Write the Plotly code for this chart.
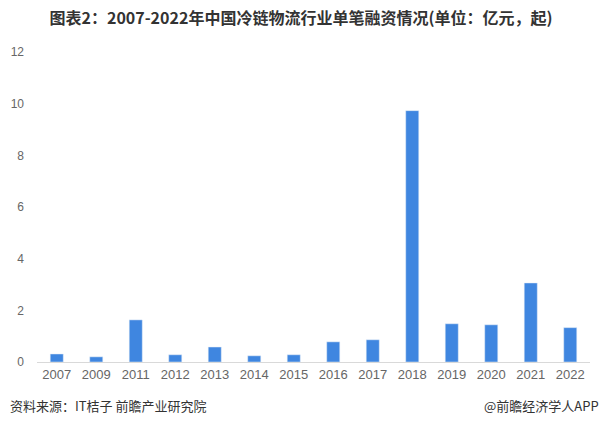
import plotly.graph_objects as go

years = ["2007", "2009", "2011", "2012", "2013", "2014", "2015", "2016", "2017", "2018", "2019", "2020", "2021", "2022"]
values = [0.31, 0.2, 1.63, 0.28, 0.58, 0.24, 0.28, 0.78, 0.86, 9.73, 1.48, 1.44, 3.06, 1.33]
y_ticks = [0, 2, 4, 6, 8, 10, 12]

fig = go.Figure()
fig.add_trace(go.Bar(x=years, y=values, marker_color="#3f86e0", width=0.33))

fig.update_layout(
    width=602, height=424,
    margin=dict(l=37, r=12, t=52, b=62),
    paper_bgcolor="white", plot_bgcolor="white",
    showlegend=False,
    font=dict(family="Noto Sans CJK SC, Liberation Sans, sans-serif"),
    title=dict(text="<b>图表2：2007-2022年中国冷链物流行业单笔融资情况(单位：亿元，起)</b>",
               x=0.5, xanchor="center", y=0.9575, yanchor="middle",
               font=dict(size=16, color="#333333")),
    xaxis=dict(type="category", showgrid=False, showline=True, linecolor="#d9d9d9", linewidth=1,
               automargin=False,
               ticks="", tickfont=dict(size=13, color="#666666", family="Liberation Sans, sans-serif")),
    yaxis=dict(range=[0, 12], tickvals=y_ticks, showgrid=False, zeroline=False, showline=False,
               automargin=False,
               ticks="", tickfont=dict(size=12, color="#666666", family="Liberation Sans, sans-serif"),
               ticklabelstandoff=12),
)
fig.add_annotation(text="资料来源：IT桔子 前瞻产业研究院", xref="paper", yref="paper",
                   x=-0.0524, y=-0.139, xanchor="left", yanchor="middle", showarrow=False,
                   font=dict(size=13, color="#333333"))
fig.add_annotation(text="@前瞻经济学人APP", xref="paper", yref="paper",
                   x=1.0199, y=-0.139, xanchor="right", yanchor="middle", showarrow=False,
                   font=dict(size=13, color="#333333"))
fig.write_html("out.html", config={"displayModeBar": False},
               post_script="document.body.style.margin='0';document.body.style.overflow='hidden';")
